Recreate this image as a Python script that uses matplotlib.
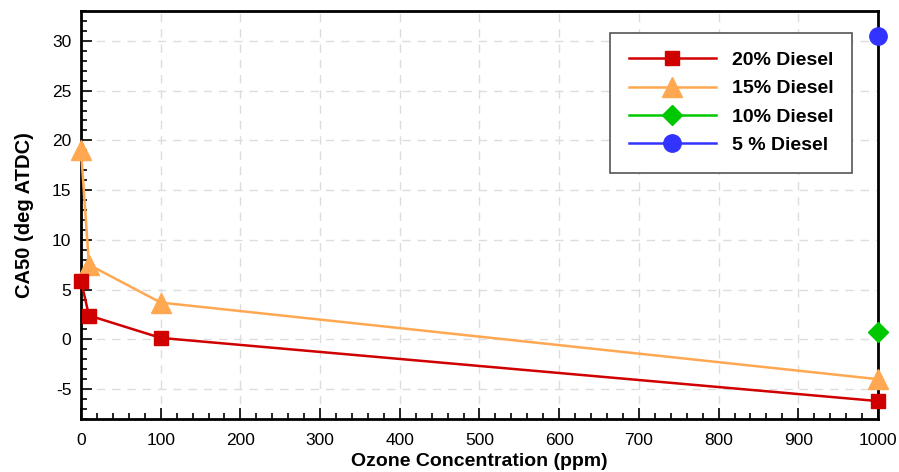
import matplotlib
matplotlib.use('Agg')
import matplotlib.pyplot as plt
from matplotlib.ticker import MultipleLocator

plt.rcParams['font.family'] = ['Liberation Sans', 'DejaVu Sans']
plt.rcParams['axes.unicode_minus'] = False

# data
x_20 = [0, 10, 100, 1000]
y_20 = [5.9, 2.4, 0.15, -6.2]
x_15 = [0, 10, 100, 1000]
y_15 = [19.0, 7.5, 3.7, -4.0]
x_10 = [1000]
y_10 = [0.7]
x_5 = [1000]
y_5 = [30.5]

fig = plt.figure(figsize=(8.99, 4.72), dpi=100)
ax = fig.add_axes([0.0901, 0.1123, 0.8865, 0.8644])

ax.plot(x_20, y_20, '-s', color='#D00000', lw=1.8, ms=10.5, clip_on=False,
        zorder=5, label='20% Diesel')
ax.plot(x_15, y_15, '-^', color='#FFA851', lw=1.8, ms=14, clip_on=False,
        zorder=4, label='15% Diesel')
ax.plot(x_10, y_10, '-D', color='#00C800', lw=1.8, ms=10.5, clip_on=False,
        zorder=5, label='10% Diesel')
ax.plot(x_5, y_5, '-o', color='#3333FF', lw=1.8, ms=12.5, clip_on=False,
        zorder=5, label='5 % Diesel')

ax.set_xlim(0, 1000)
ax.set_ylim(-8, 33)
ax.xaxis.set_major_locator(MultipleLocator(100))
ax.xaxis.set_minor_locator(MultipleLocator(20))
ax.yaxis.set_major_locator(MultipleLocator(5))
ax.yaxis.set_minor_locator(MultipleLocator(1))
ax.tick_params(which='both', direction='in', top=False, right=False,
               width=1.2, labelsize=12.5)
ax.tick_params(which='major', length=8)
ax.tick_params(which='minor', length=4)
ax.tick_params(axis='x', pad=10)
ax.tick_params(axis='y', pad=7)

ax.grid(True, which='major', color='#DDDDDD', ls=(0, (6, 5)), lw=1)
for s in ax.spines.values():
    s.set_linewidth(2)

ax.set_xlabel('Ozone Concentration (ppm)', fontsize=14, fontweight='bold',
              labelpad=4)
ax.set_ylabel('CA50 (deg ATDC)', fontsize=14.5, fontweight='bold', labelpad=13)

leg = ax.legend(loc='upper right', bbox_to_anchor=(0.967, 0.946),
                prop={'weight': 'bold', 'size': 14}, fancybox=False,
                handlelength=4.5, handletextpad=0.8, borderpad=0.95,
                labelspacing=0.55, borderaxespad=0, framealpha=1)
leg.get_frame().set_edgecolor('#555555')
leg.get_frame().set_linewidth(1.2)

fig.savefig('out.png', dpi=100)
